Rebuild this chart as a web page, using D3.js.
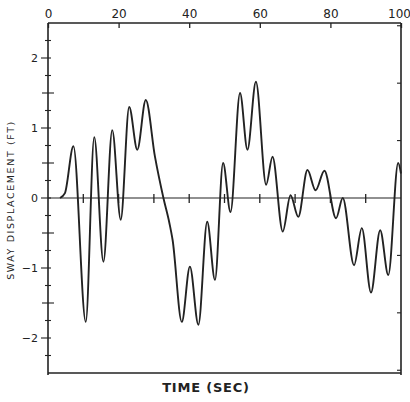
<!DOCTYPE html>
<html><head><meta charset="utf-8">
<script src="https://cdn.jsdelivr.net/npm/d3@7/dist/d3.min.js"></script>
<style>
body{margin:0;background:#fff;}
svg{display:block;}
text{font-family:"DejaVu Sans","Liberation Sans",sans-serif;fill:#222;}
</style></head>
<body>
<svg id="c" width="410" height="402"></svg>
<script>
const times  = [3.4, 4.8, 7.2, 10.7, 13.1, 15.7, 18.2, 20.6, 23.0, 25.3, 27.7, 30.3, 32.7, 34.4, 35.3, 37.9, 40.2, 42.6, 45.1, 47.3, 49.6, 51.7, 54.4, 56.5, 58.9, 61.8, 63.6, 66.5, 68.7, 70.9, 73.5, 75.8, 78.3, 81.6, 83.5, 86.7, 88.9, 91.5, 94.1, 96.4, 99.2, 100];
const values = [0, 0.07, 0.74, -1.77, 0.87, -0.91, 0.97, -0.31, 1.30, 0.69, 1.40, 0.59, 0, -0.36, -0.6, -1.77, -0.98, -1.81, -0.34, -1.17, 0.50, -0.2, 1.50, 0.69, 1.66, 0.19, 0.59, -0.48, 0.04, -0.27, 0.40, 0.11, 0.39, -0.29, 0.0, -0.96, -0.43, -1.35, -0.46, -1.1, 0.5, 0.35];
const xTickLabels = [0, 20, 40, 60, 80, 100];
const yTickLabels = [2, 1, 0, -1, -2];
const zeroLineTicks = [10, 20, 30, 40, 50, 60, 70, 80, 90];
const rightTicksMeters = [-0.75, -0.5, -0.25, 0.25, 0.5, 0.75];
const xTitle = "TIME (SEC)";
const yTitle = "SWAY DISPLACEMENT (FT)";

const svg = d3.select("#c");
const x = d3.scaleLinear().domain([0, 100]).range([48, 401]);
const y = d3.scaleLinear().domain([-2.5, 2.5]).range([373, 23]);
const ink = "#222";

// frame
const g = svg.append("g").attr("stroke", ink).attr("fill", "none");
g.append("line").attr("x1", x(0)).attr("x2", x(100)).attr("y1", y(2.5)).attr("y2", y(2.5)).attr("stroke-width", 1.5);
g.append("line").attr("x1", x(0)).attr("x2", x(100)).attr("y1", y(-2.5)).attr("y2", y(-2.5)).attr("stroke-width", 1.3);
g.append("line").attr("x1", x(0)).attr("x2", x(0)).attr("y1", y(2.5)).attr("y2", y(-2.5) + 2).attr("stroke-width", 1.6);
g.append("line").attr("x1", x(100)).attr("x2", x(100)).attr("y1", y(2.5)).attr("y2", y(-2.5) + 2).attr("stroke-width", 1.6);
// zero line
g.append("line").attr("x1", x(0)).attr("x2", x(100)).attr("y1", y(0)).attr("y2", y(0)).attr("stroke-width", 1.2);
zeroLineTicks.forEach(t => {
  g.append("line").attr("x1", x(t)).attr("x2", x(t)).attr("y1", y(0) - 4).attr("y2", y(0) + 5).attr("stroke-width", 1.3);
});

// top axis ticks + labels
const topAxis = d3.axisTop(x).tickValues(xTickLabels).tickSize(-5).tickPadding(5).tickFormat(d3.format("d"));
const ta = svg.append("g").attr("transform", `translate(0,${y(2.5)})`).call(topAxis);
ta.select(".domain").remove();
ta.selectAll("line").attr("stroke", ink).attr("stroke-width", 1.3);
ta.selectAll("text").attr("font-size", 12).attr("fill", ink).attr("font-family", "DejaVu Sans, sans-serif")
  .attr("dx", d => d === 100 ? -2 : 0);

// left axis: minor ticks
const minor = d3.range(-2.5, 2.51, 0.25).filter(v => Math.abs(v) < 2.49);
minor.forEach(v => {
  const isHalf = Math.abs(v * 2 - Math.round(v * 2)) < 1e-6 && Math.abs(v - Math.round(v)) > 1e-6;
  const isInt = Math.abs(v - Math.round(v)) < 1e-6;
  let l = 3, r = 3;
  if (isHalf) { l = 6; r = 6; }
  if (isInt) { l = 7; r = 3; }
  g.append("line").attr("x1", x(0) - l).attr("x2", x(0) + r).attr("y1", y(v)).attr("y2", y(v)).attr("stroke-width", 1.1);
});
const leftAxis = d3.axisLeft(y).tickValues(yTickLabels).tickSize(0).tickPadding(10).tickFormat(d3.format("d"));
const la = svg.append("g").attr("transform", `translate(${x(0)},0)`).call(leftAxis);
la.select(".domain").remove();
la.selectAll("text").attr("font-size", 11).attr("fill", ink).attr("font-family", "DejaVu Sans, sans-serif");

// right axis ticks (metres)
rightTicksMeters.forEach(m => {
  const v = m * 3.28084;
  g.append("line").attr("x1", x(100) - 4).attr("x2", x(100)).attr("y1", y(v)).attr("y2", y(v)).attr("stroke-width", 1.1);
});

// curve
const pts = times.map((t, i) => [t, values[i]]);
svg.append("path").datum(pts)
  .attr("fill", "none").attr("stroke", ink).attr("stroke-width", 1.9).attr("stroke-linejoin", "round")
  .attr("d", d3.line().x(d => x(d[0])).y(d => y(d[1])).curve(d3.curveMonotoneX));

// titles
svg.append("text").attr("x", 206).attr("y", 392).attr("text-anchor", "middle")
  .attr("font-size", 13).attr("font-weight", "bold").attr("letter-spacing", 0.8)
  .attr("font-family", "Liberation Sans, Arial, sans-serif").text(xTitle);
svg.append("text").attr("transform", "translate(14,200) rotate(-90)").attr("text-anchor", "middle")
  .attr("font-size", 9.5).attr("letter-spacing", 1.6)
  .attr("font-family", "DejaVu Sans Mono, monospace").text(yTitle);
</script>
</body></html>
